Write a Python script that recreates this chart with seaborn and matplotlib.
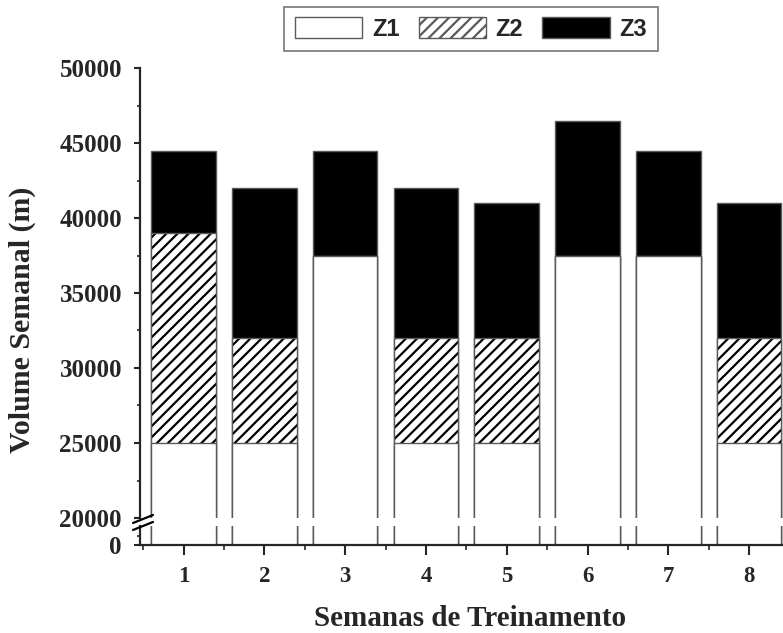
import matplotlib
matplotlib.use("Agg")
import matplotlib.pyplot as plt
import seaborn as sns
import numpy as np
import pandas as pd
from matplotlib.patches import Patch
from matplotlib.lines import Line2D
from matplotlib.ticker import MultipleLocator, FixedLocator

weeks = [1, 2, 3, 4, 5, 6, 7, 8]
z1 = [25000, 25000, 37500, 25000, 25000, 37500, 37500, 25000]
z2 = [14000, 7000, 0, 7000, 7000, 0, 0, 7000]
z3 = [5500, 10000, 7000, 10000, 9000, 9000, 7000, 9000]
series_names = ["Z1", "Z2", "Z3"]
xlabel = "Semanas de Treinamento"
ylabel = "Volume Semanal (m)"

sns.set_style("ticks")
plt.rcParams["font.family"] = ["Liberation Serif", "DejaVu Serif"]
plt.rcParams["hatch.linewidth"] = 1.6

df = pd.DataFrame({"week": weeks, "z1": z1, "z2": z2, "z3": z3})
df["c2"] = df["z1"] + df["z2"]
df["c3"] = df["c2"] + df["z3"]

W, H = 783, 633
fig = plt.figure(figsize=(W / 100, H / 100), dpi=100)
left = 140 / W
ax_top = fig.add_axes([left, 1 - 518 / H, 1 - left, (518 - 68) / H])
ax_bot = fig.add_axes([left, 1 - 545 / H, 1 - left, (545 - 526) / H])

edge = "#5a5a5a"
HATCH = "///"
for ax in (ax_top, ax_bot):
    sns.barplot(data=df, x="week", y="c3", native_scale=True, width=0.8,
                color="black", edgecolor=edge, linewidth=1.0, ax=ax, saturation=1)
    sns.barplot(data=df, x="week", y="c2", native_scale=True, width=0.8,
                color="white", edgecolor=edge, linewidth=1.0, hatch=HATCH, ax=ax, saturation=1)
    sns.barplot(data=df, x="week", y="z1", native_scale=True, width=0.8,
                color="white", edgecolor=edge, linewidth=1.0, ax=ax, saturation=1)
    ax.set_xlim(0.46, 8.42)
    ax.set_xlabel("")
    ax.set_ylabel("")
    for s in ("top", "right"):
        ax.spines[s].set_visible(False)
    ax.spines["left"].set_linewidth(1.6)
    ax.spines["bottom"].set_linewidth(1.6)

n = len(weeks)
for ax in (ax_top, ax_bot):
    for p in ax.patches[n:2 * n]:
        p.set_hatch(HATCH)
        p._hatch_color = (0, 0, 0, 1)

ax_top.set_ylim(20000, 50000)
ax_top.spines["bottom"].set_visible(False)
ax_top.tick_params(axis="x", which="both", bottom=False, labelbottom=False)
ax_top.yaxis.set_major_locator(MultipleLocator(5000))
ax_top.yaxis.set_minor_locator(MultipleLocator(2500))
ax_top.tick_params(axis="y", which="major", length=4.5, width=1.5, labelsize=18, pad=8.5)
ax_top.tick_params(axis="y", which="minor", length=2.5, width=1.2)
for lab in ax_top.get_yticklabels():
    lab.set_fontweight("bold")

ax_bot.set_ylim(0, 2000)
ax_bot.yaxis.set_major_locator(FixedLocator([0]))
ax_bot.yaxis.set_minor_locator(FixedLocator([1000]))
ax_bot.set_yticklabels(["0"])
ax_bot.xaxis.set_major_locator(FixedLocator(weeks))
ax_bot.xaxis.set_minor_locator(FixedLocator([w + 0.5 for w in [0] + weeks]))
ax_bot.set_xticklabels([str(w) for w in weeks])
ax_bot.tick_params(axis="y", which="major", length=4.5, width=1.5, labelsize=18, pad=8.5)
ax_bot.tick_params(axis="y", which="minor", length=2.5, width=1.2)
ax_bot.tick_params(axis="x", which="major", length=7, width=1.5, labelsize=16.5, pad=8)
ax_bot.tick_params(axis="x", which="minor", length=3.6, width=1.2)
for lab in ax_bot.get_yticklabels() + ax_bot.get_xticklabels():
    lab.set_fontweight("bold")

fig.text(470 / W, 1 - 619 / H, xlabel, ha="center", va="center",
         fontsize=21, fontweight="bold")
fig.text(22 / W, 1 - 320 / H, ylabel, ha="center", va="center", rotation=90,
         fontsize=21.5, fontweight="bold")

# break marks
for y0 in (523, 530):
    fig.add_artist(Line2D([133 / W, 153 / W], [1 - y0 / H, 1 - (y0 - 8) / H],
                          transform=fig.transFigure, color="black", lw=1.6))

handles = [Patch(facecolor="white", edgecolor=edge, label=series_names[0]),
           Patch(facecolor="white", edgecolor=edge, hatch=HATCH, label=series_names[1]),
           Patch(facecolor="black", edgecolor=edge, label=series_names[2])]
leg = fig.legend(handles=handles, loc="center", bbox_to_anchor=(471 / W, 1 - 29 / H),
                 ncol=3, frameon=True, fancybox=False, handlelength=2.85, handleheight=1.0,
                 columnspacing=0.8, handletextpad=0.42, borderpad=0.45,
                 prop={"family": "Liberation Sans", "weight": "bold", "size": 17})
leg.get_frame().set_edgecolor("#555555")
leg.get_frame().set_linewidth(1.2)

fig.savefig("out.png", dpi=100)
